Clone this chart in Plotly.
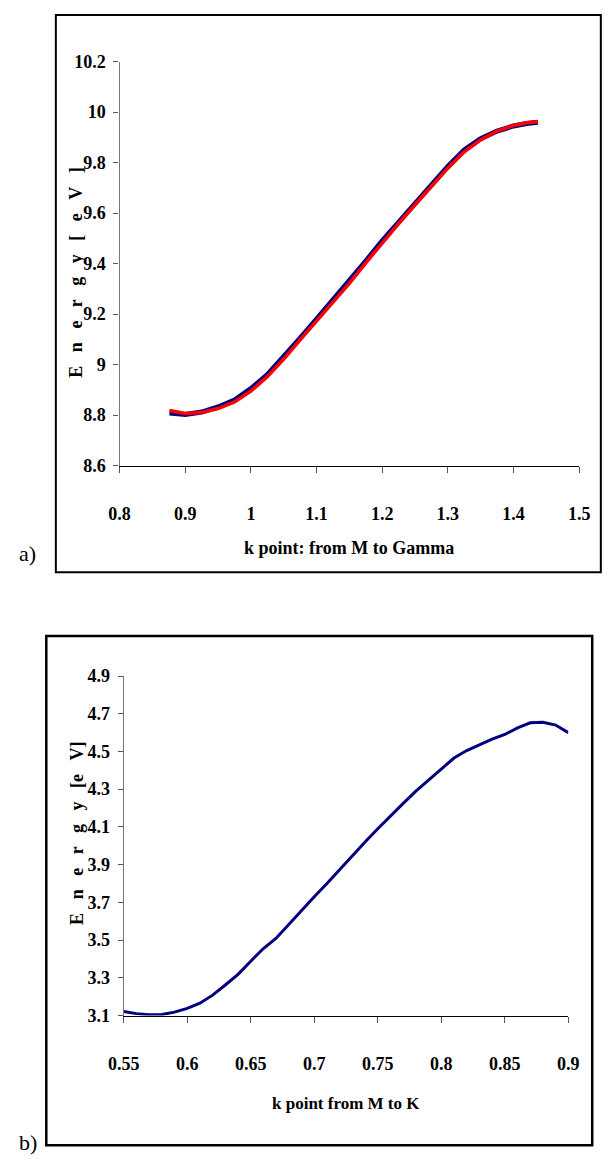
import plotly.graph_objects as go

# Panel a: band energy along M -> Gamma (two calculations)
k_a = [0.876, 0.90, 0.925, 0.95, 0.975, 1.00, 1.025, 1.05, 1.075, 1.10, 1.125, 1.15,
       1.175, 1.20, 1.225, 1.25, 1.275, 1.30, 1.325, 1.35, 1.375, 1.40, 1.42, 1.437]
e_a_blue = [8.808, 8.802, 8.812, 8.832, 8.860, 8.905, 8.960, 9.030, 9.105, 9.180, 9.255, 9.330,
            9.410, 9.490, 9.565, 9.640, 9.715, 9.785, 9.850, 9.895, 9.925, 9.945, 9.955, 9.960]
e_a_red = [8.818, 8.806, 8.810, 8.826, 8.852, 8.895, 8.952, 9.022, 9.098, 9.172, 9.250, 9.322,
           9.403, 9.482, 9.558, 9.633, 9.708, 9.778, 9.843, 9.890, 9.925, 9.947, 9.958, 9.962]

# Panel b: band energy along M -> K
k_b = [0.55, 0.56, 0.57, 0.58, 0.59, 0.60, 0.61, 0.62, 0.63, 0.64, 0.65, 0.66,
       0.67, 0.68, 0.69, 0.70, 0.71, 0.72, 0.73, 0.74, 0.75, 0.76, 0.77, 0.78,
       0.79, 0.80, 0.81, 0.82, 0.83, 0.84, 0.85, 0.86, 0.87, 0.88, 0.89, 0.90]
e_b = [3.121, 3.110, 3.104, 3.105, 3.118, 3.138, 3.165, 3.208, 3.262, 3.318, 3.388, 3.455,
       3.510, 3.585, 3.660, 3.730, 3.800, 3.875, 3.950, 4.020, 4.090, 4.160, 4.225, 4.290,
       4.350, 4.410, 4.465, 4.505, 4.535, 4.565, 4.590, 4.625, 4.652, 4.655, 4.640, 4.600]

xticks_a = [0.8, 0.9, 1.0, 1.1, 1.2, 1.3, 1.4, 1.5]
xtick_text_a = ["0.8", "0.9", "1", "1.1", "1.2", "1.3", "1.4", "1.5"]
yticks_a = [8.6, 8.8, 9.0, 9.2, 9.4, 9.6, 9.8, 10.0, 10.2]
ytick_text_a = ["8.6", "8.8", "9", "9.2", "9.4", "9.6", "9.8", "10", "10.2"]
xticks_b = [0.55, 0.6, 0.65, 0.7, 0.75, 0.8, 0.85, 0.9]
xtick_text_b = ["0.55", "0.6", "0.65", "0.7", "0.75", "0.8", "0.85", "0.9"]
yticks_b = [3.1, 3.3, 3.5, 3.7, 3.9, 4.1, 4.3, 4.5, 4.7, 4.9]
ytick_text_b = ["3.1", "3.3", "3.5", "3.7", "3.9", "4.1", "4.3", "4.5", "4.7", "4.9"]

W, H = 608, 1170
SERIF = "Liberation Serif, Times New Roman, serif"
NAVY = "#000080"


def px(x):
    return x / W


def py(y):
    return 1 - y / H


def bold(labels):
    return ["<b>%s</b>" % s for s in labels]


fig = go.Figure()
fig.add_trace(go.Scatter(x=k_a, y=e_a_blue, mode="lines", xaxis="x", yaxis="y",
                         line=dict(color=NAVY, width=5), showlegend=False))
fig.add_trace(go.Scatter(x=k_a, y=e_a_red, mode="lines", xaxis="x", yaxis="y",
                         line=dict(color="#ff0000", width=3.5), showlegend=False))
fig.add_trace(go.Scatter(x=k_b, y=e_b, mode="lines", xaxis="x2", yaxis="y2",
                         line=dict(color=NAVY, width=3), showlegend=False))

tickfont = dict(family=SERIF, size=18, color="black")
common_x = dict(showgrid=False, zeroline=False, showline=True, linecolor="black", linewidth=1.3,
                ticks="outside", ticklen=6, tickcolor="#555555", tickwidth=1.3,
                tickfont=tickfont, ticklabelstandoff=26)
common_y = dict(showgrid=False, zeroline=False, showline=True, linecolor="#777777", linewidth=1.3,
                ticks="outside", ticklen=5, tickcolor="#555555", tickwidth=1.3,
                tickfont=tickfont, ticklabelstandoff=4)

fig.update_layout(
    width=W, height=H, autosize=False,
    margin=dict(l=0, r=0, t=0, b=0),
    paper_bgcolor="white", plot_bgcolor="white",
    xaxis=dict(domain=[px(108.4), px(589.3)], range=[0.8, 1.5], anchor="y",
               tickvals=xticks_a, ticktext=bold(xtick_text_a), **common_x),
    yaxis=dict(domain=[py(463.5), py(52.5)], range=[8.6, 10.2], anchor="x",
               tickvals=yticks_a, ticktext=bold(ytick_text_a), **common_y),
    xaxis2=dict(domain=[px(112.7), px(578)], range=[0.55, 0.9], anchor="y2",
                tickvals=xticks_b, ticktext=bold(xtick_text_b), **common_x),
    yaxis2=dict(domain=[py(1023), py(677.6)], range=[3.1, 4.9], anchor="x2",
                tickvals=yticks_b, ticktext=bold(ytick_text_b), **common_y),
)

# Frames around each panel
fig.add_shape(type="rect", xref="paper", yref="paper",
              x0=px(41.7), x1=px(612), y0=py(572), y1=py(5),
              line=dict(color="black", width=2), fillcolor="rgba(0,0,0,0)")
fig.add_shape(type="rect", xref="paper", yref="paper",
              x0=px(31.7), x1=px(603), y0=py(1155), y1=py(637),
              line=dict(color="black", width=2.5), fillcolor="rgba(0,0,0,0)")

ytitlefont = dict(family=SERIF, size=18, color="black")
sp = "\u00a0\u00a0\u00a0"
ann = [
    dict(text="<b>k point: from M to Gamma</b>", x=px(348.8), y=py(547),
         font=dict(family=SERIF, size=18, color="black")),
    dict(text="<b>k point from M to K</b>", x=px(345.3), y=py(1113),
         font=dict(family=SERIF, size=17, color="black")),
    dict(text="<b>" + sp.join("Energy") + sp + "[" + sp + "e" + sp + "V" + sp + "]</b>",
         x=px(63), y=py(267), textangle=-90, font=ytitlefont),
    dict(text="<b>" + sp.join("Energy") + sp + "[e" + sp + "V]</b>",
         x=px(63), y=py(838), textangle=-90, font=ytitlefont),
]
for a in ann:
    fig.add_annotation(xref="paper", yref="paper", showarrow=False,
                       xanchor="center", yanchor="middle", **a)

# Panel letters
for label, y in [("a)", 553), ("b)", 1152)]:
    fig.add_annotation(text=label, xref="paper", yref="paper", x=px(1), y=py(y),
                       xanchor="left", yanchor="middle", showarrow=False,
                       font=dict(family=SERIF, size=22, color="black"))

fig.write_html("out.html")
